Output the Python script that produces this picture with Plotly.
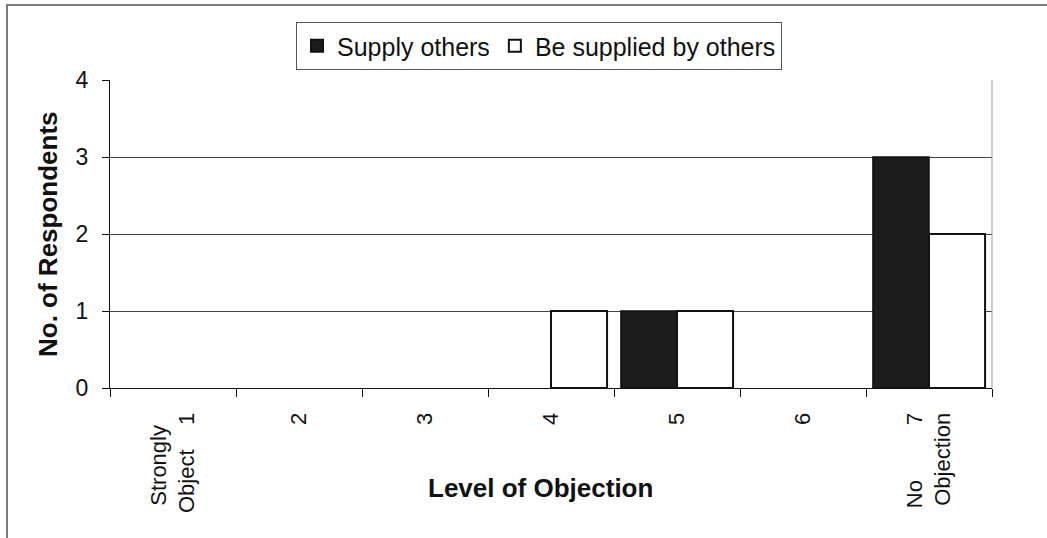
import plotly.graph_objects as go

categories = [
    "Strongly\u00a0\u00a0<br>Object\u00a0\u00a0\u00a0\u00a01",
    "2", "3", "4", "5", "6",
    "No\u00a0\u00a0\u00a0\u00a0\u00a0\u00a0\u00a0\u00a0\u00a07<br>Objection",
]
supply_others = [0, 0, 0, 0, 1, 0, 3]
be_supplied = [0, 0, 0, 1, 1, 0, 2]
y_ticks = [0, 1, 2, 3, 4]

FONT = "Liberation Sans, Arial, sans-serif"

W, H = 1047, 538
L, R, T, B = 110, 992, 80, 388   # plot area in pixels


def fx(p):
    return p / W


def fy(p):
    return (H - p) / H


def outline(vals, w):
    return [0 if v == 0 else w for v in vals]


fig = go.Figure()
fig.add_trace(go.Bar(
    x=categories, y=supply_others, name="Supply others",
    marker=dict(color="#1c1c1c",
                line=dict(color="#111111", width=outline(supply_others, 1.5))),
))
fig.add_trace(go.Bar(
    x=categories, y=be_supplied, name="Be supplied by others",
    marker=dict(color="#ffffff",
                line=dict(color="#111111", width=outline(be_supplied, 2))),
))

fig.update_layout(
    width=W, height=H,
    margin=dict(l=0, r=0, t=0, b=0, autoexpand=False),
    paper_bgcolor="white", plot_bgcolor="white",
    font=dict(family=FONT, size=23, color="#111111"),
    barmode="group", bargap=0.11, bargroupgap=0,
    showlegend=True,
    legend=dict(
        orientation="h", x=fx(539), xanchor="center",
        y=fy(22), yanchor="top",
        bordercolor="#555555", borderwidth=1, bgcolor="white",
        font=dict(family=FONT, size=25, color="#111111"),
        itemsizing="constant", traceorder="normal",
    ),
    xaxis=dict(
        domain=[fx(L), fx(R)],
        type="category", tickangle=-90, tickson="boundaries",
        ticks="outside", ticklen=8, tickcolor="#111111",
        showline=True, linecolor="#111111", linewidth=1,
        showgrid=False, tickfont=dict(family=FONT, size=22),
        ticklabelstandoff=15,
    ),
    yaxis=dict(
        domain=[fy(B), fy(T)],
        range=[0, 4], tickvals=y_ticks, ticks="outside", ticklen=7,
        tickcolor="#111111", showline=True, linecolor="#111111", linewidth=1,
        showgrid=True, gridcolor="#444444", gridwidth=1, zeroline=False,
        tickfont=dict(family=FONT, size=23), ticklabelstandoff=9,
    ),
    annotations=[
        dict(text="<b>Level of Objection</b>", x=fx(540), y=fy(488),
             xref="paper", yref="paper", showarrow=False,
             xanchor="center", yanchor="middle",
             font=dict(family=FONT, size=26, color="#111111")),
        dict(text="<b>No. of Respondents</b>", x=fx(48), y=fy(234),
             xref="paper", yref="paper", showarrow=False, textangle=-90,
             xanchor="center", yanchor="middle",
             font=dict(family=FONT, size=26, color="#111111")),
    ],
    shapes=[
        # outer chart border: top and left edges (others fall outside the picture)
        dict(type="line", xref="paper", yref="paper", layer="above",
             x0=fx(6), x1=1, y0=fy(5), y1=fy(5),
             line=dict(color="#7a7a7a", width=2)),
        dict(type="line", xref="paper", yref="paper", layer="above",
             x0=fx(7), x1=fx(7), y0=0, y1=fy(5),
             line=dict(color="#7a7a7a", width=2)),
        # plot area right edge
        dict(type="line", xref="paper", yref="paper",
             x0=fx(R), x1=fx(R), y0=fy(B), y1=fy(T),
             line=dict(color="#999999", width=1)),
    ],
)

fig.write_html("out.html",
               config={"displayModeBar": False},
               post_script="document.body.style.margin='0';"
                           "document.body.style.overflow='hidden';")
